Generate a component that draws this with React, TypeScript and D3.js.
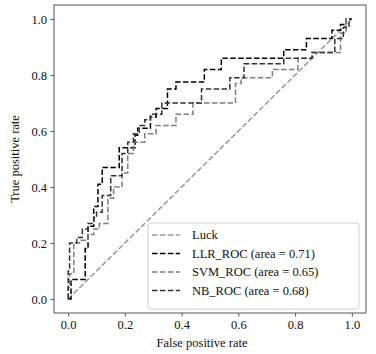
import React, { useRef, useEffect } from "react";
import * as d3 from "d3";

// ROC steps: (fpr where tpr jumps, tpr after the jump)
const luckFpr = [0, 1];
const luckTpr = [0, 1];

const llrFpr = [0, 0.01, 0.06, 0.07, 0.09, 0.105, 0.12, 0.18, 0.236, 0.245, 0.29, 0.31, 0.35, 0.38, 0.48, 0.54, 0.76, 0.84, 0.93, 0.96, 0.98, 1];
const llrTpr = [0, 0.07, 0.18, 0.26, 0.33, 0.41, 0.47, 0.54, 0.585, 0.61, 0.65, 0.68, 0.75, 0.775, 0.82, 0.86, 0.89, 0.93, 0.96, 0.98, 1, 1];

const svmFpr = [0, 0, 0.005, 0.02, 0.04, 0.07, 0.09, 0.11, 0.14, 0.16, 0.19, 0.21, 0.23, 0.27, 0.31, 0.38, 0.44, 0.59, 0.61, 0.72, 0.81, 0.86, 0.96, 0.98, 1];
const svmTpr = [0, 0.04, 0.09, 0.2, 0.21, 0.23, 0.25, 0.27, 0.36, 0.4, 0.45, 0.52, 0.56, 0.59, 0.62, 0.66, 0.7, 0.77, 0.79, 0.82, 0.86, 0.88, 0.95, 1, 1];

const nbFpr = [0, 0, 0.005, 0.03, 0.05, 0.07, 0.09, 0.1, 0.12, 0.15, 0.19, 0.21, 0.23, 0.25, 0.27, 0.29, 0.33, 0.47, 0.57, 0.62, 0.76, 0.86, 0.94, 0.97, 0.99, 1];
const nbTpr = [0, 0.1, 0.2, 0.22, 0.25, 0.27, 0.29, 0.31, 0.37, 0.44, 0.52, 0.56, 0.59, 0.62, 0.64, 0.66, 0.7, 0.75, 0.79, 0.84, 0.86, 0.88, 0.93, 0.97, 1, 1];

const ticks = [0, 0.2, 0.4, 0.6, 0.8, 1.0];
const labels = ["Luck", "LLR_ROC (area = 0.71)", "SVM_ROC (area = 0.65)", "NB_ROC (area = 0.68)"];
const colors = ["#999999", "#000000", "#7f7f7f", "#333333"];

const width = 376;
const height = 354;
const margin = { top: 5, right: 10, bottom: 41, left: 54 };
const font = "'Liberation Serif', 'Times New Roman', serif";
const textColor = "#111";

const App = () => {
  const ref = useRef<SVGSVGElement>(null);

  useEffect(() => {
    const svg = d3.select(ref.current);
    svg.selectAll("*").remove();

    const x = d3.scaleLinear().domain([-0.05, 1.05]).range([margin.left, width - margin.right]);
    const y = d3.scaleLinear().domain([-0.05, 1.05]).range([height - margin.bottom, margin.top]);

    const series = [
      { fpr: luckFpr, tpr: luckTpr, curve: d3.curveLinear },
      { fpr: llrFpr, tpr: llrTpr, curve: d3.curveStepAfter },
      { fpr: svmFpr, tpr: svmTpr, curve: d3.curveStepAfter },
      { fpr: nbFpr, tpr: nbTpr, curve: d3.curveStepAfter },
    ];

    series.forEach((s, i) => {
      const line = d3
        .line<number>()
        .x((d) => x(s.fpr[d]))
        .y((d) => y(s.tpr[d]))
        .curve(s.curve);
      svg
        .append("path")
        .attr("d", line(d3.range(s.fpr.length)))
        .attr("fill", "none")
        .attr("stroke", colors[i])
        .attr("stroke-width", 1.5)
        .attr("stroke-dasharray", "5.5,2.4");
    });

    // frame
    svg
      .append("rect")
      .attr("x", margin.left)
      .attr("y", margin.top)
      .attr("width", width - margin.left - margin.right)
      .attr("height", height - margin.top - margin.bottom)
      .attr("fill", "none")
      .attr("stroke", "#555")
      .attr("stroke-width", 1);

    const xAxis = svg
      .append("g")
      .attr("transform", `translate(0,${height - margin.bottom})`)
      .call(d3.axisBottom(x).tickValues(ticks).tickFormat(d3.format(".1f")).tickSizeOuter(0).tickSize(3.5).tickPadding(3.5));
    const yAxis = svg
      .append("g")
      .attr("transform", `translate(${margin.left},0)`)
      .call(d3.axisLeft(y).tickValues(ticks).tickFormat(d3.format(".1f")).tickSizeOuter(0).tickSize(3.5).tickPadding(3.5));
    [xAxis, yAxis].forEach((g) => {
      g.select(".domain").remove();
      g.selectAll("line").attr("stroke", "#555");
      g.selectAll("text").attr("font-family", font).attr("font-size", 12.5).attr("fill", textColor);
    });

    svg
      .append("text")
      .attr("x", 202)
      .attr("y", 347)
      .attr("text-anchor", "middle")
      .attr("font-family", font)
      .attr("font-size", 12.5)
      .attr("fill", textColor)
      .text("False positive rate");
    svg
      .append("text")
      .attr("transform", `translate(19,${(margin.top + height - margin.bottom) / 2}) rotate(-90)`)
      .attr("text-anchor", "middle")
      .attr("font-family", font)
      .attr("font-size", 12.5)
      .attr("fill", textColor)
      .text("True positive rate");

    // legend
    const lg = svg.append("g").attr("transform", "translate(148,223)");
    lg.append("rect")
      .attr("width", 211)
      .attr("height", 86)
      .attr("rx", 3)
      .attr("fill", "white")
      .attr("fill-opacity", 0.8)
      .attr("stroke", "#d0d0d0");
    labels.forEach((label, i) => {
      const cy = 12 + i * 18.5;
      lg.append("line")
        .attr("x1", 4)
        .attr("x2", 32)
        .attr("y1", cy)
        .attr("y2", cy)
        .attr("stroke", colors[i])
        .attr("stroke-width", 1.5)
        .attr("stroke-dasharray", "5.5,2.4");
      lg.append("text")
        .attr("x", 44)
        .attr("y", cy)
        .attr("dy", "0.35em")
        .attr("font-family", font)
        .attr("font-size", 12.5)
        .attr("fill", textColor)
        .text(label);
    });
  }, []);

  return <svg ref={ref} width={width} height={height} style={{ position: "absolute", left: 0, top: 0 }} />;
};

export default App;
